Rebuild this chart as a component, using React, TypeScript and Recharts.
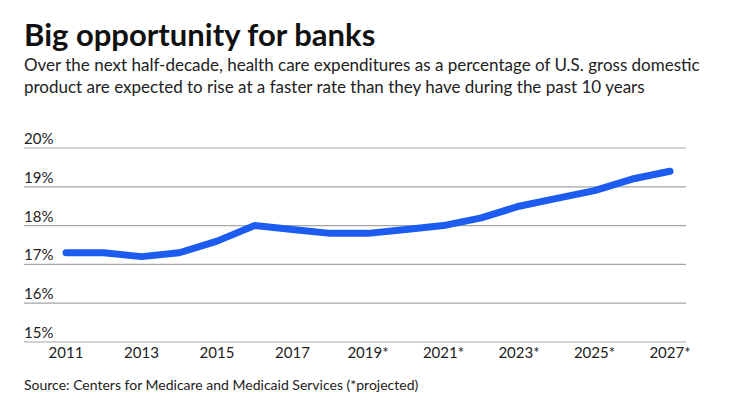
import React from 'react';
import { LineChart, Line, XAxis, YAxis, CartesianGrid } from 'recharts';

const years = ['2011', '2012', '2013', '2014', '2015', '2016', '2017', '2018', '2019*', '2020*', '2021*', '2022*', '2023*', '2024*', '2025*', '2026*', '2027*'];
const shareOfGdp = [17.3, 17.3, 17.2, 17.3, 17.6, 18.0, 17.9, 17.8, 17.8, 17.9, 18.0, 18.2, 18.5, 18.7, 18.9, 19.2, 19.4];
const yTicks = [15, 16, 17, 18, 19, 20];

const data = years.map((y, i) => ({ year: y, value: shareOfGdp[i] }));

const FONT = 'Lato, "Noto Sans", sans-serif';

const YTick = (props: any) => {
  const { y, payload } = props;
  return (
    <text x={24} y={y - 4} textAnchor="start" fontFamily={FONT} fontSize={15} fill="#222">
      {`${payload.value}%`}
    </text>
  );
};

const XTick = (props: any) => {
  const { x, y, payload } = props;
  return (
    <text x={x} y={y} dy="0.71em" textAnchor="middle" fontFamily={FONT} fontSize={15} fill="#222">
      {payload.value}
    </text>
  );
};

export default function App() {
  return (
    <div style={{ position: 'absolute', left: 0, top: 0, width: 740, height: 416, background: '#fff', fontFamily: FONT }}>
      <div style={{ position: 'absolute', left: 24, top: 16, fontSize: 31, fontWeight: 700, color: '#111', whiteSpace: 'nowrap', lineHeight: '36px' }}>
        Big opportunity for banks
      </div>
      <div style={{ position: 'absolute', left: 24, top: 54, fontSize: 17, color: '#222', lineHeight: '22px', width: 700 }}>
        Over the next half-decade, health care expenditures as a percentage of U.S. gross domestic product are expected to rise at a faster rate than they have during the past 10 years
      </div>
      <div style={{ position: 'absolute', left: 0, top: 0 }}>
        <LineChart width={740} height={416} data={data} margin={{ top: 148, right: 54, bottom: 44, left: 0 }}>
          <CartesianGrid vertical={false} stroke="#a6a6a6" strokeWidth={1.2} />
          <XAxis
            dataKey="year"
            interval={1}
            axisLine={false}
            tickLine={false}
            tickSize={0}
            tickMargin={5}
            height={30}
            padding={{ left: 42, right: 16 }}
            tick={<XTick />}
          />
          <YAxis
            domain={[15, 20]}
            ticks={yTicks}
            width={24}
            axisLine={false}
            tickLine={false}
            tick={<YTick />}
          />
          <Line
            type="linear"
            dataKey="value"
            stroke="#1c5cf0"
            strokeWidth={7}
            strokeLinecap="round"
            strokeLinejoin="round"
            dot={false}
            isAnimationActive={false}
          />
        </LineChart>
      </div>
      <div style={{ position: 'absolute', left: 24, top: 376, fontSize: 14, color: '#222', whiteSpace: 'nowrap' }}>
        Source: Centers for Medicare and Medicaid Services (*projected)
      </div>
    </div>
  );
}
